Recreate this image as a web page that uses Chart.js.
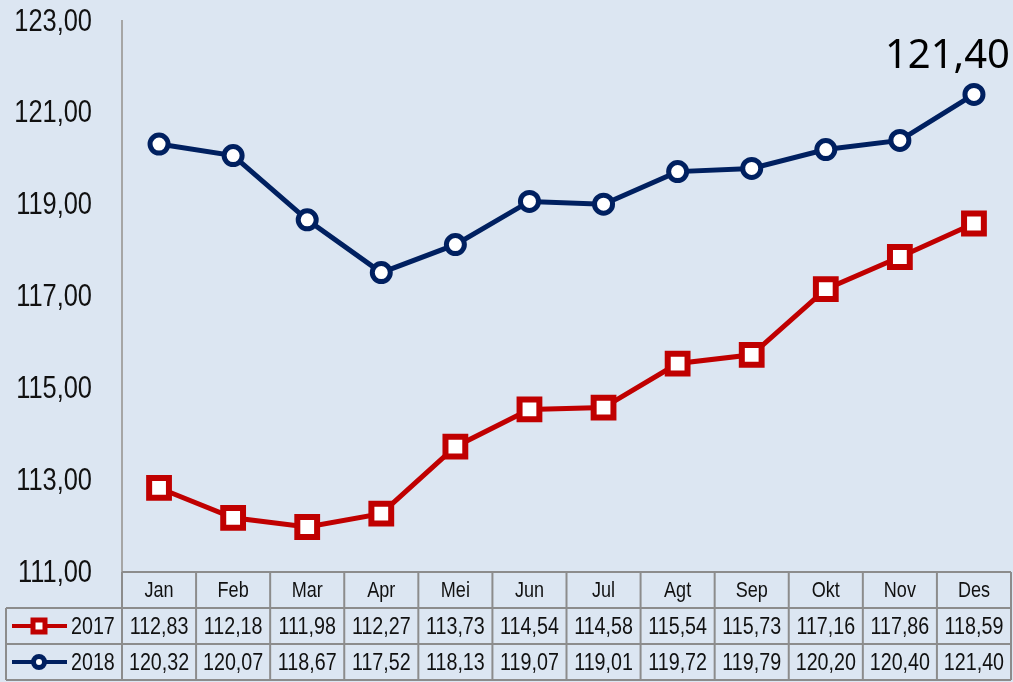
<!DOCTYPE html>
<html>
<head>
<meta charset="utf-8">
<script src="https://cdn.jsdelivr.net/npm/chart.js@4.4.1/dist/chart.umd.min.js"></script>
<style>
  body { margin: 0; background: #dce6f2; }
  canvas { display: block; }
</style>
</head>
<body>
<canvas id="myChart" width="1013" height="682"></canvas>
<script>
const bulan = ['Jan', 'Feb', 'Mar', 'Apr', 'Mei', 'Jun', 'Jul', 'Agt', 'Sep', 'Okt', 'Nov', 'Des'];
const seri2017 = [112.83, 112.18, 111.98, 112.27, 113.73, 114.54, 114.58, 115.54, 115.73, 117.16, 117.86, 118.59];
const seri2018 = [120.32, 120.07, 118.67, 117.52, 118.13, 119.07, 119.01, 119.72, 119.79, 120.20, 120.40, 121.40];
const tickY = [111, 113, 115, 117, 119, 121, 123];

const merah = '#c00000';
const biru = '#002060';
const abu = '#8c8c8c';
const fontNarrow = "'Liberation Sans', Arial, sans-serif";
const sempit = 0.82; // tiru Arial Narrow

function fmt(v) {
  return v.toFixed(2).replace('.', ',');
}

// teks dipersempit secara horizontal
function teksSempit(ctx, teks, x, y, size, align) {
  ctx.save();
  ctx.font = size + 'px ' + fontNarrow;
  ctx.textAlign = align;
  ctx.textBaseline = 'middle';
  ctx.translate(x, y);
  ctx.scale(sempit, 1);
  ctx.fillText(teks, 0, 0);
  ctx.restore();
}

// tabel data di bawah grafik + label sumbu Y
const tabelPlugin = {
  id: 'tabelData',
  afterDraw(chart) {
    const ctx = chart.ctx;
    const area = chart.chartArea;
    const xs = chart.scales.x;
    const ys = chart.scales.y;
    const w = area.width / bulan.length;
    const top = area.bottom, r1 = 608, r2 = 644, bot = 680, kiri = 6;

    ctx.save();
    ctx.fillStyle = '#111';
    ys.ticks.forEach(t => {
      teksSempit(ctx, fmt(t.value), 92, ys.getPixelForValue(t.value) + 1, 31, 'right');
    });

    ctx.strokeStyle = abu;
    ctx.lineWidth = 2;
    ctx.beginPath();
    // garis horizontal
    ctx.moveTo(area.left, top); ctx.lineTo(area.right, top);
    ctx.moveTo(kiri, r1); ctx.lineTo(area.right, r1);
    ctx.moveTo(kiri, r2); ctx.lineTo(area.right, r2);
    ctx.moveTo(kiri, bot); ctx.lineTo(area.right, bot);
    // garis vertikal
    ctx.moveTo(kiri, r1); ctx.lineTo(kiri, bot);
    for (let i = 0; i <= bulan.length; i++) {
      const x = area.left + i * w;
      ctx.moveTo(x, top); ctx.lineTo(x, bot);
    }
    ctx.stroke();

    ctx.fillStyle = '#111';
    bulan.forEach((b, i) => {
      const x = xs.getPixelForValue(i);
      teksSempit(ctx, b, x, (top + r1) / 2 + 1, 22, 'center');
      teksSempit(ctx, fmt(seri2017[i]), x, (r1 + r2) / 2 + 1, 24, 'center');
      teksSempit(ctx, fmt(seri2018[i]), x, (r2 + bot) / 2 + 1, 24, 'center');
    });

    // legenda
    const baris = [
      { y: (r1 + r2) / 2, warna: merah, label: '2017', gaya: 'rect' },
      { y: (r2 + bot) / 2, warna: biru, label: '2018', gaya: 'circle' }
    ];
    baris.forEach(b => {
      ctx.strokeStyle = b.warna;
      ctx.lineWidth = 4;
      ctx.beginPath();
      ctx.moveTo(12, b.y); ctx.lineTo(67, b.y);
      ctx.stroke();
      ctx.fillStyle = '#fff';
      ctx.lineWidth = 5;
      ctx.beginPath();
      if (b.gaya === 'rect') {
        ctx.rect(39 - 6, b.y - 6, 12, 12);
      } else {
        ctx.arc(39, b.y, 5.5, 0, Math.PI * 2);
      }
      ctx.fill();
      ctx.stroke();
      ctx.fillStyle = '#111';
      teksSempit(ctx, b.label, 71, b.y + 1, 24, 'left');
    });

    // label nilai terakhir 2018
    const meta = chart.getDatasetMeta(1);
    const p = meta.data[meta.data.length - 1];
    ctx.fillStyle = '#000';
    ctx.textAlign = 'right';
    ctx.textBaseline = 'alphabetic';
    ctx.font = "40px 'Noto Sans', sans-serif";
    ctx.fillText(fmt(seri2018[seri2018.length - 1]), area.right - 1, p.y - 26);
    ctx.restore();
  }
};

const ctx = document.getElementById('myChart').getContext('2d');
const myChart = new Chart(ctx, {
  type: 'line',
  data: {
    labels: bulan,
    datasets: [{
      label: '2017',
      data: seri2017,
      borderColor: merah,
      borderWidth: 5,
      pointStyle: 'rect',
      pointRadius: 14,
      pointBorderWidth: 6,
      pointBackgroundColor: '#fff',
      pointBorderColor: merah,
      tension: 0,
      clip: false
    }, {
      label: '2018',
      data: seri2018,
      borderColor: biru,
      borderWidth: 5,
      pointStyle: 'circle',
      pointRadius: 9,
      pointBorderWidth: 5,
      pointBackgroundColor: '#fff',
      pointBorderColor: biru,
      tension: 0,
      clip: false
    }]
  },
  options: {
    responsive: false,
    animation: false,
    layout: { autoPadding: false, padding: { top: 21, bottom: 110, right: 2, left: 0 } },
    plugins: {
      legend: { display: false },
      tooltip: { enabled: false }
    },
    scales: {
      x: {
        display: false,
        offset: true
      },
      y: {
        min: tickY[0],
        max: tickY[tickY.length - 1],
        afterFit: s => { s.width = 122; },
        afterBuildTicks: s => { s.ticks = tickY.map(v => ({ value: v })); },
        grid: { display: false, drawTicks: false },
        border: { display: true, color: '#a6a6a6', width: 2 },
        ticks: { display: false }
      }
    }
  },
  plugins: [tabelPlugin]
});
</script>
</body>
</html>
